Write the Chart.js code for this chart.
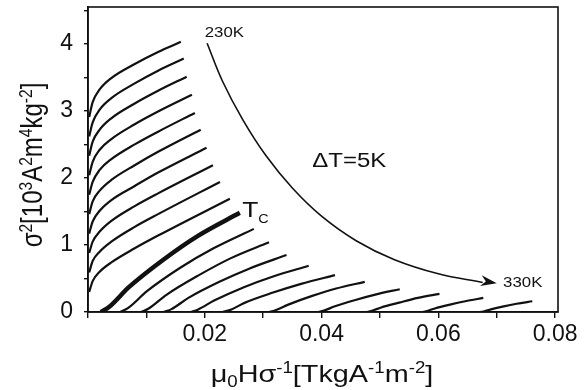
<!DOCTYPE html>
<html>
<head>
<meta charset="utf-8">
<script src="https://cdn.jsdelivr.net/npm/chart.js@4.4.1/dist/chart.umd.min.js"></script>
<style>
  html, body { margin: 0; padding: 0; background: #fff; }
</style>
</head>
<body>
<canvas id="arrott" width="586" height="390"></canvas>
<script>
/* Isotermas de Arrott – sigma² x mu0H/sigma, 230K..330K (passo 5K) */

const temps = [230, 235, 240, 245, 250, 255, 260, 265, 270, 275, 280,
               285, 290, 295, 300, 305, 310, 315, 320, 325, 330];
const tempC = 280;   // curva em negrito (Tc)

// mu0H/sigma de cada isoterma
const isoX = [
  [0.0002, 0.0008, 0.002, 0.004, 0.008, 0.012, 0.0159],
  [0.0002, 0.0008, 0.002, 0.004, 0.008, 0.012, 0.0164],
  [0.0002, 0.0008, 0.002, 0.004, 0.008, 0.012, 0.0169],
  [0.0002, 0.0008, 0.002, 0.004, 0.008, 0.012, 0.0178],
  [0.0002, 0.0008, 0.002, 0.004, 0.008, 0.012, 0.0183],
  [0.0002, 0.0008, 0.002, 0.004, 0.008, 0.012, 0.0193],
  [0.0002, 0.0008, 0.002, 0.004, 0.008, 0.012, 0.0203],
  [0.0002, 0.0008, 0.002, 0.004, 0.008, 0.012, 0.0214],
  [0.0002, 0.0008, 0.002, 0.004, 0.008, 0.012, 0.0226],
  [0.0002, 0.0008, 0.002, 0.004, 0.008, 0.012, 0.0243],
  [0.0022, 0.0036, 0.0070, 0.0129, 0.0189, 0.0260],
  [0.0055, 0.0069, 0.0101, 0.0158, 0.0215, 0.0284],
  [0.0091, 0.0104, 0.0135, 0.0190, 0.0244, 0.0310],
  [0.0130, 0.0143, 0.0172, 0.0225, 0.0277, 0.0340],
  [0.0176, 0.0188, 0.0216, 0.0267, 0.0317, 0.0378],
  [0.0231, 0.0243, 0.0269, 0.0317, 0.0365, 0.0423],
  [0.0310, 0.0320, 0.0343, 0.0384, 0.0425, 0.0474],
  [0.0395, 0.0403, 0.0423, 0.0458, 0.0492, 0.0534],
  [0.0477, 0.0485, 0.0502, 0.0533, 0.0565, 0.0602],
  [0.0573, 0.0579, 0.0594, 0.0620, 0.0646, 0.0677],
  [0.0672, 0.0677, 0.0690, 0.0712, 0.0734, 0.0761],
];

// sigma² [10³ A² m⁴ kg⁻²]
const isoY = [
  [2.91, 3.13, 3.32, 3.49, 3.70, 3.88, 4.03],
  [2.62, 2.83, 3.02, 3.19, 3.41, 3.60, 3.78],
  [2.33, 2.54, 2.72, 2.89, 3.11, 3.30, 3.51],
  [2.04, 2.24, 2.42, 2.58, 2.80, 2.99, 3.24],
  [1.75, 1.94, 2.12, 2.28, 2.50, 2.69, 2.97],
  [1.46, 1.65, 1.81, 1.97, 2.19, 2.39, 2.72],
  [1.17, 1.35, 1.51, 1.67, 1.88, 2.08, 2.45],
  [0.88, 1.05, 1.20, 1.36, 1.58, 1.77, 2.19],
  [0.59, 0.76, 0.90, 1.05, 1.27, 1.46, 1.94],
  [0.30, 0.46, 0.60, 0.74, 0.95, 1.14, 1.69],
  [0, 0.074, 0.37, 0.78, 1.14, 1.48],
  [0, 0.062, 0.31, 0.66, 0.95, 1.24],
  [0, 0.052, 0.26, 0.55, 0.80, 1.04],
  [0, 0.043, 0.21, 0.45, 0.65, 0.85],
  [0, 0.035, 0.17, 0.37, 0.53, 0.69],
  [0, 0.028, 0.14, 0.29, 0.42, 0.55],
  [0, 0.023, 0.11, 0.24, 0.35, 0.45],
  [0, 0.017, 0.085, 0.18, 0.26, 0.34],
  [0, 0.014, 0.068, 0.14, 0.21, 0.27],
  [0, 0.011, 0.053, 0.11, 0.16, 0.21],
  [0, 0.008, 0.040, 0.085, 0.123, 0.16],
];

// seta 230K -> 330K
const setaX = [0.0204, 0.0230, 0.0265, 0.0305, 0.0350, 0.0400, 0.0460, 0.0525, 0.0600, 0.0676];
const setaY = [4.01, 3.45, 2.87, 2.33, 1.85, 1.43, 1.06, 0.78, 0.57, 0.44];
const setaPonta = [0.0700, 0.43];

// textos soltos no gráfico
const notas = [
  { txt: '230K',       x: 0.0200, y: 4.10, size: 14 },
  { txt: '330K',       x: 0.0711, y: 0.37, size: 14 },
  { txt: '\u0394T=5K', x: 0.0384, y: 2.16, size: 20 },
];
const notaTc = { x: 0.0264, y: 1.42 };

const FONT = "'Liberation Sans', Arial, sans-serif";
const INK  = '#111';
const ESTICA = 1.2;   // a figura original é esticada na horizontal

/* ── texto com sub/sobrescrito ── */
function runsWidth(ctx, runs, size) {
  let w = 0;
  runs.forEach(([t, k]) => {
    ctx.font = (k ? size * 0.65 : size) + 'px ' + FONT;
    w += ctx.measureText(t).width;
  });
  return w;
}
function drawRuns(ctx, runs, x, y, size) {
  let cx = x;
  runs.forEach(([t, k]) => {
    const s = k ? size * 0.65 : size;
    ctx.font = s + 'px ' + FONT;
    const dy = k === 'sup' ? -size * 0.36 : (k === 'sub' ? size * 0.22 : 0);
    ctx.fillText(t, cx, y + dy);
    cx += ctx.measureText(t).width;
  });
}
function textoEsticado(ctx, txt, x, y) {
  ctx.save();
  ctx.translate(x, y);
  ctx.scale(ESTICA, 1);
  ctx.fillText(txt, 0, 0);
  ctx.restore();
}

const tituloX = [['\u03bc',''],['0','sub'],['H\u03c3',''],['-1','sup'],['[TkgA',''],['-1','sup'],['m',''],['-2','sup'],[']','']];
const tituloY = [['\u03c3',''],['2','sup'],['[10',''],['3','sup'],['A',''],['2','sup'],['m',''],['4','sup'],['kg',''],['-2','sup'],[']','']];

const extras = {
  id: 'extras',
  afterDatasetsDraw(chart) {
    const { ctx, chartArea: a, scales: { x, y } } = chart;
    ctx.save();
    // moldura
    ctx.strokeStyle = INK;
    ctx.lineWidth = 1.6;
    ctx.strokeRect(a.left, a.top, a.right - a.left, a.bottom - a.top);

    // ponta da seta
    const n = setaX.length - 1;
    const bx = x.getPixelForValue(setaX[n - 1]), by = y.getPixelForValue(setaY[n - 1]);
    const tx = x.getPixelForValue(setaPonta[0]), ty = y.getPixelForValue(setaPonta[1]);
    const ang = Math.atan2(ty - by, tx - bx);
    const c = Math.cos(ang), s = Math.sin(ang);
    ctx.fillStyle = INK;
    ctx.beginPath();
    ctx.moveTo(tx, ty);
    ctx.lineTo(tx - 16 * c + 5.5 * s, ty - 16 * s - 5.5 * c);
    ctx.lineTo(tx - 11 * c, ty - 11 * s);
    ctx.lineTo(tx - 16 * c - 5.5 * s, ty - 16 * s + 5.5 * c);
    ctx.closePath();
    ctx.fill();

    // rótulos
    ctx.textBaseline = 'alphabetic';
    ctx.textAlign = 'left';
    notas.forEach(nt => {
      ctx.font = nt.size + 'px ' + FONT;
      textoEsticado(ctx, nt.txt, x.getPixelForValue(nt.x), y.getPixelForValue(nt.y));
    });
    const px = x.getPixelForValue(notaTc.x), py = y.getPixelForValue(notaTc.y);
    ctx.font = '22px ' + FONT;
    textoEsticado(ctx, 'T', px, py);
    const wT = ctx.measureText('T').width * ESTICA;
    ctx.font = '12px ' + FONT;
    textoEsticado(ctx, 'C', px + wT, py + 6);

    // títulos dos eixos
    ctx.save();
    ctx.translate(322, 382);
    ctx.scale(ESTICA, 1);
    const wx = runsWidth(ctx, tituloX, 24);
    drawRuns(ctx, tituloX, -wx / 2, 0, 24);
    ctx.restore();

    ctx.translate(42, 165);
    ctx.scale(ESTICA, 1);
    ctx.rotate(-Math.PI / 2);
    const wy = runsWidth(ctx, tituloY, 24);
    drawRuns(ctx, tituloY, -wy / 2, 0, 24);
    ctx.restore();
  }
};

const datasets = temps.map((t, i) => ({
  label: t + 'K',
  data: isoX[i].map((v, j) => ({ x: v, y: isoY[i][j] })),
  borderColor: INK,
  borderWidth: t === tempC ? 4.5 : 2.2,
  pointRadius: 0,
  fill: false,
  cubicInterpolationMode: 'monotone',
}));
datasets.push({
  label: 'seta',
  data: setaX.map((v, j) => ({ x: v, y: setaY[j] })),
  borderColor: INK,
  borderWidth: 1.6,
  pointRadius: 0,
  fill: false,
  tension: 0.4,
});

new Chart(document.getElementById('arrott'), {
  type: 'line',
  data: { datasets },
  plugins: [extras],
  options: {
    responsive: false,
    animation: false,
    devicePixelRatio: 1,
    layout: { padding: { top: 7, right: 28, left: 0, bottom: 0 } },
    plugins: { legend: { display: false }, tooltip: { enabled: false } },
    scales: {
      x: {
        type: 'linear', min: 0, max: 0.0805,
        border: { color: INK, width: 1.6 },
        grid: { drawOnChartArea: false, color: INK, lineWidth: 1.4, tickLength: 6 },
        ticks: {
          stepSize: 0.01, includeBounds: false, autoSkip: false, maxRotation: 0,
          color: INK, padding: 3, font: { family: FONT, size: 23 },
          callback: v => { const k = Math.round(v * 100); return (k > 0 && k % 2 === 0) ? (k / 100).toFixed(2) : ''; }
        },
        afterFit: s => { s.height = 78; s.paddingLeft = 0; s.paddingRight = 0; }
      },
      y: {
        type: 'linear', min: 0, max: 4.55,
        border: { color: INK, width: 1.6 },
        grid: { drawOnChartArea: false, color: INK, lineWidth: 1.4, tickLength: 4 },
        ticks: {
          stepSize: 0.5, includeBounds: false, color: INK, padding: 11,
          font: { family: FONT, size: 23 },
          callback: v => Number.isInteger(v) ? String(v) : ''
        },
        afterFit: s => { s.width = 88; s.paddingTop = 0; s.paddingBottom = 0; }
      }
    }
  }
});
</script>
</body>
</html>
